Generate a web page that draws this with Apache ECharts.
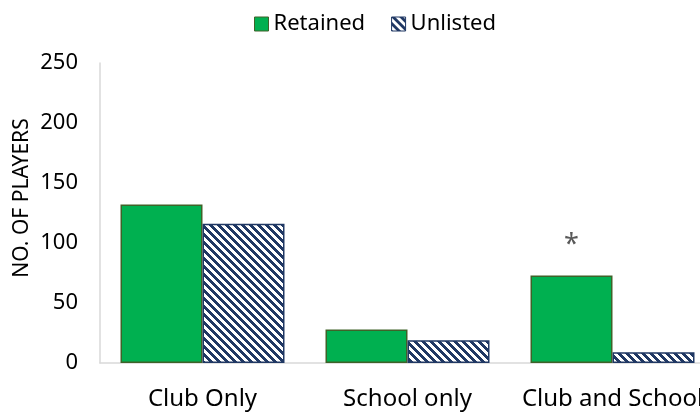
<!DOCTYPE html>
<html>
<head>
<meta charset="utf-8">
<script src="https://cdn.jsdelivr.net/npm/echarts@6/dist/echarts.min.js"></script>
<style>
  html, body { margin: 0; padding: 0; background: #ffffff; }
  #chart { width: 700px; height: 420px; }
</style>
</head>
<body>
<div id="chart"></div>
<script>
// Player counts by playing pathway
const categories = ['Club Only', 'School only', 'Club and School'];
const retained = [132, 28, 73];
const unlisted = [116, 19, 9];
const yTicks = [0, 50, 100, 150, 200, 250];
const seriesNames = ['Retained', 'Unlisted'];
const yAxisTitle = 'NO. OF PLAYERS';
const markedCategory = 'Club and School';   // significant difference
const markSymbol = '*';

const GREEN = '#00B050';
const GREEN_EDGE = '#3F6229';
const NAVY = '#203864';

// Wide downward diagonal hatch tile
function hatchTile() {
  const size = 8;
  const c = document.createElement('canvas');
  c.width = size; c.height = size;
  const ctx = c.getContext('2d');
  const img = ctx.createImageData(size, size);
  const r = 0x20, g = 0x38, b = 0x64;
  for (let y = 0; y < size; y++) {
    for (let x = 0; x < size; x++) {
      const dark = ((x - y) % size + size) % size < 4;
      const i = (y * size + x) * 4;
      img.data[i] = dark ? r : 255;
      img.data[i + 1] = dark ? g : 255;
      img.data[i + 2] = dark ? b : 255;
      img.data[i + 3] = 255;
    }
  }
  ctx.putImageData(img, 0, 0);
  return c;
}
const hatch = { image: hatchTile(), repeat: 'repeat' };

const FONT = 'Noto Sans';

const chart = echarts.init(document.getElementById('chart'), null, { renderer: 'canvas' });

const retainedData = retained.map((v, i) => {
  if (categories[i] === markedCategory) {
    return {
      value: v,
      label: {
        show: true,
        position: 'top',
        distance: 17,
        formatter: markSymbol,
        fontFamily: FONT,
        fontSize: 27,
        color: '#595959'
      }
    };
  }
  return v;
});

chart.setOption({
  animation: false,
  backgroundColor: '#ffffff',
  textStyle: { fontFamily: FONT },
  legend: {
    top: 8,
    left: 249,
    icon: 'rect',
    itemWidth: 14,
    itemHeight: 14,
    itemGap: 26,
    textStyle: { fontFamily: FONT, fontSize: 22, color: '#000000' },
    data: [
      { name: seriesNames[0], itemStyle: { color: GREEN, borderColor: GREEN_EDGE, borderWidth: 1 } },
      { name: seriesNames[1], itemStyle: { color: hatch, borderColor: NAVY, borderWidth: 1 } }
    ]
  },
  grid: { left: 100, top: 63, width: 615, height: 300, containLabel: false, outerBoundsMode: 'none' },
  xAxis: {
    type: 'category',
    data: categories,
    axisLine: { show: true, lineStyle: { color: '#D9D9D9', width: 1.5 } },
    axisTick: { show: false },
    axisLabel: { fontFamily: FONT, fontSize: 24, color: '#000000', margin: 24, interval: 0 }
  },
  yAxis: {
    type: 'value',
    min: yTicks[0],
    max: yTicks[yTicks.length - 1],
    interval: yTicks[1] - yTicks[0],
    axisLine: { show: true, lineStyle: { color: '#D9D9D9', width: 1.5 } },
    axisTick: { show: false },
    splitLine: { show: false },
    axisLabel: { fontFamily: FONT, fontSize: 22, color: '#000000', margin: 22 }
  },
  graphic: [{
    type: 'text',
    x: 22,
    y: 198,
    rotation: Math.PI / 2,
    style: {
      text: yAxisTitle,
      fontFamily: FONT,
      fontSize: 21,
      fill: '#000000',
      align: 'center',
      verticalAlign: 'middle'
    }
  }],
  series: [
    {
      name: seriesNames[0],
      type: 'bar',
      data: retainedData,
      barGap: '0%',
      barCategoryGap: '20%',
      itemStyle: { color: GREEN, borderColor: GREEN_EDGE, borderWidth: 1.5 }
    },
    {
      name: seriesNames[1],
      type: 'bar',
      data: unlisted,
      barGap: '0%',
      barCategoryGap: '20%',
      itemStyle: { color: hatch, borderColor: NAVY, borderWidth: 1.5 }
    }
  ]
});
</script>
</body>
</html>
